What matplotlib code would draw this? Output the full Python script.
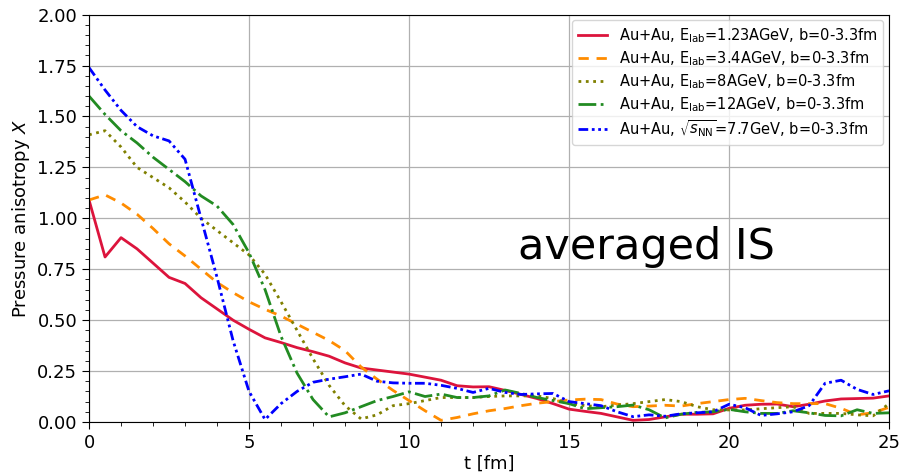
import numpy as np
import matplotlib
matplotlib.use("Agg")
import matplotlib.pyplot as plt
from matplotlib.ticker import MultipleLocator

# time grid [fm]
t = np.arange(0, 25.01, 0.5)

x_123 = [1.09, 0.81, 0.905, 0.85, 0.78, 0.71, 0.68, 0.61, 0.555, 0.50,
         0.455, 0.413, 0.39, 0.365, 0.345, 0.323, 0.29, 0.265, 0.255, 0.245,
         0.235, 0.22, 0.205, 0.178, 0.172, 0.173, 0.155, 0.135, 0.115, 0.09,
         0.063, 0.052, 0.042, 0.025, 0.008, 0.012, 0.025, 0.038, 0.038, 0.04,
         0.067, 0.082, 0.087, 0.088, 0.075, 0.087, 0.103, 0.113, 0.115, 0.117,
         0.128]

x_34 = [1.09, 1.115, 1.075, 1.02, 0.95, 0.875, 0.815, 0.75, 0.685, 0.635,
        0.59, 0.553, 0.52, 0.48, 0.44, 0.40, 0.35, 0.27, 0.21, 0.155,
        0.105, 0.055, 0.008, 0.022, 0.04, 0.055, 0.066, 0.08, 0.092, 0.10,
        0.108, 0.112, 0.11, 0.088, 0.075, 0.078, 0.082, 0.078, 0.09, 0.10,
        0.11, 0.116, 0.105, 0.095, 0.09, 0.09, 0.09, 0.067, 0.035, 0.045,
        0.072]

x_8 = [1.41, 1.43, 1.35, 1.25, 1.20, 1.15, 1.08, 1.0, 0.94, 0.88,
       0.82, 0.725, 0.59, 0.45, 0.31, 0.18, 0.08, 0.015, 0.035, 0.08,
       0.09, 0.105, 0.12, 0.12, 0.12, 0.125, 0.128, 0.128, 0.128, 0.115,
       0.092, 0.08, 0.075, 0.083, 0.09, 0.10, 0.11, 0.10, 0.075, 0.06,
       0.059, 0.059, 0.065, 0.07, 0.075, 0.042, 0.042, 0.042, 0.035, 0.03,
       0.09]

x_12 = [1.60, 1.51, 1.43, 1.37, 1.30, 1.24, 1.18, 1.11, 1.06, 0.97,
        0.83, 0.65, 0.42, 0.24, 0.11, 0.025, 0.045, 0.075, 0.105, 0.125,
        0.148, 0.125, 0.137, 0.12, 0.12, 0.128, 0.157, 0.14, 0.12, 0.105,
        0.09, 0.065, 0.07, 0.075, 0.083, 0.06, 0.02, 0.038, 0.047, 0.05,
        0.062, 0.05, 0.042, 0.042, 0.055, 0.045, 0.032, 0.03, 0.06, 0.042,
        0.045]

x_77 = [1.74, 1.63, 1.53, 1.45, 1.405, 1.38, 1.29, 1.0, 0.71, 0.40,
        0.15, 0.012, 0.09, 0.15, 0.195, 0.21, 0.222, 0.235, 0.2, 0.192,
        0.19, 0.19, 0.18, 0.165, 0.145, 0.165, 0.145, 0.135, 0.138, 0.14,
        0.10, 0.09, 0.08, 0.05, 0.026, 0.035, 0.028, 0.04, 0.045, 0.05,
        0.087, 0.07, 0.032, 0.04, 0.05, 0.08, 0.19, 0.205, 0.16, 0.135,
        0.153]

labels = [
    r"Au+Au, E$_{\rm lab}$=1.23AGeV, b=0-3.3fm",
    r"Au+Au, E$_{\rm lab}$=3.4AGeV, b=0-3.3fm",
    r"Au+Au, E$_{\rm lab}$=8AGeV, b=0-3.3fm",
    r"Au+Au, E$_{\rm lab}$=12AGeV, b=0-3.3fm",
    r"Au+Au, $\sqrt{s_{\rm NN}}$=7.7GeV, b=0-3.3fm",
]

fig = plt.figure(figsize=(9.02, 4.72), dpi=100)
ax = fig.add_axes([0.0987, 0.106, 0.887, 0.863])

lw = 2.0
ax.plot(t, x_123, color="crimson", lw=lw, ls="-", label=labels[0])
ax.plot(t, x_34, color="darkorange", lw=lw, ls=(0, (3.7, 2.8)), label=labels[1])
ax.plot(t, x_8, color="olive", lw=lw, ls=":", label=labels[2])
ax.plot(t, x_12, color="forestgreen", lw=lw, ls="-.", label=labels[3])
ax.plot(t, x_77, color="blue", lw=lw, ls=(0, (3.5, 1.3, 1, 1.3, 1, 1.3)), label=labels[4])

ax.set_xlim(0, 25)
ax.set_ylim(0, 2.0)
ax.xaxis.set_major_locator(MultipleLocator(5))
ax.xaxis.set_minor_locator(MultipleLocator(1))
ax.yaxis.set_major_locator(MultipleLocator(0.25))
ax.yaxis.set_minor_locator(MultipleLocator(0.05))
ax.tick_params(which="major", labelsize=13, length=5)
ax.tick_params(which="minor", length=3)
ax.grid(True, which="major", color="#b0b0b0", lw=0.9)

ax.set_xlabel("t [fm]", fontsize=13, labelpad=2)
ax.set_ylabel(r"Pressure anisotropy $X$", fontsize=13)

ax.text(13.4, 0.80, "averaged IS", fontsize=31, ha="left", va="baseline")

ax.legend(loc="upper right", fontsize=10.5, handlelength=2.0,
          labelspacing=0.3, borderaxespad=0.4)

fig.savefig("out.png", dpi=100)
